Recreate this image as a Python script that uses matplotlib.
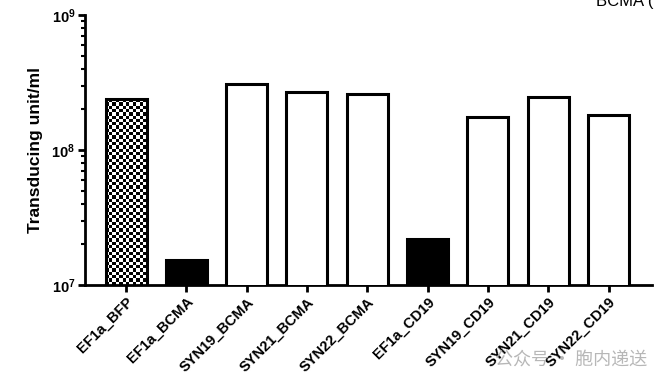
import numpy as np
import matplotlib
matplotlib.use("Agg")
import matplotlib.pyplot as plt
from matplotlib.ticker import LogLocator, NullFormatter

plt.rcParams['font.family'] = ['Liberation Sans', 'DejaVu Sans']

# data
samples = ["EF1a_BFP", "EF1a_BCMA", "SYN19_BCMA", "SYN21_BCMA", "SYN22_BCMA",
           "EF1a_CD19", "SYN19_CD19", "SYN21_CD19", "SYN22_CD19"]
titer = [2.39e8, 1.53e7, 3.07e8, 2.70e8, 2.59e8, 2.19e7, 1.77e8, 2.48e8, 1.82e8]
fill = ["checker", "black", "white", "white", "white", "black", "white", "white", "white"]

fig = plt.figure(figsize=(6.64, 3.86), dpi=100)
ax = fig.add_axes([0.128, 0.262, 0.854, 0.699])
ax.set_yscale('log')

x = np.arange(len(samples))
width = 0.68
colors = ['black' if f == 'black' else 'white' for f in fill]
bars = ax.bar(x, titer, width=width, color=colors,
              edgecolor='black', linewidth=2.2, zorder=3)
ax.set_ylim(1e7, 1e9)
ax.set_xlim(-0.68, 8.72)

# checkerboard fill for the BFP control, built from the bar's own geometry
for b, f, t in zip(bars, fill, titer):
    if f != "checker":
        continue
    b.set_facecolor('none')
    x0, w = b.get_x(), b.get_width()
    ncol, nrow = 12, 56
    xe = np.linspace(x0, x0 + w, ncol + 1)
    ye = np.geomspace(1e7, t, nrow + 1)
    board = (np.add.outer(np.arange(nrow), np.arange(ncol)) % 2).astype(float)
    ax.pcolormesh(xe, ye, board, cmap='gray', vmin=0, vmax=1, zorder=2,
                  shading='flat')

ax.spines['top'].set_visible(False)
ax.spines['right'].set_visible(False)
ax.spines['left'].set_linewidth(2.0)
ax.spines['bottom'].set_linewidth(2.0)

ax.yaxis.set_major_locator(LogLocator(base=10, numticks=5))
ax.yaxis.set_minor_locator(LogLocator(base=10, subs=np.arange(2, 10), numticks=10))
ax.yaxis.set_minor_formatter(NullFormatter())
ax.tick_params(axis='y', which='major', length=5, width=2.0, labelsize=10.5, pad=2)
ax.tick_params(axis='y', which='minor', length=3, width=1.5)
ax.tick_params(axis='x', length=5, width=2.0, pad=2)
for lab in ax.get_yticklabels():
    lab.set_fontweight('bold')

ax.set_xticks(x)
ax.set_xticklabels(samples, rotation=45, ha='right', rotation_mode='anchor',
                   fontsize=10.5, fontweight='bold')
ax.set_ylabel("Transducing unit/ml", fontsize=12.5, fontweight='bold', labelpad=6)

fig.text(0.898, 1 - 6 / 386, "BCMA (", fontsize=12, va='baseline', ha='left')

fig.text(0.745, 0.068, "公众号 · 胞内递送", fontsize=13, color='#b0b0b0',
         family=['Noto Sans CJK SC', 'DejaVu Sans'], va='center', alpha=0.9)

fig.savefig("out.png", dpi=100)
